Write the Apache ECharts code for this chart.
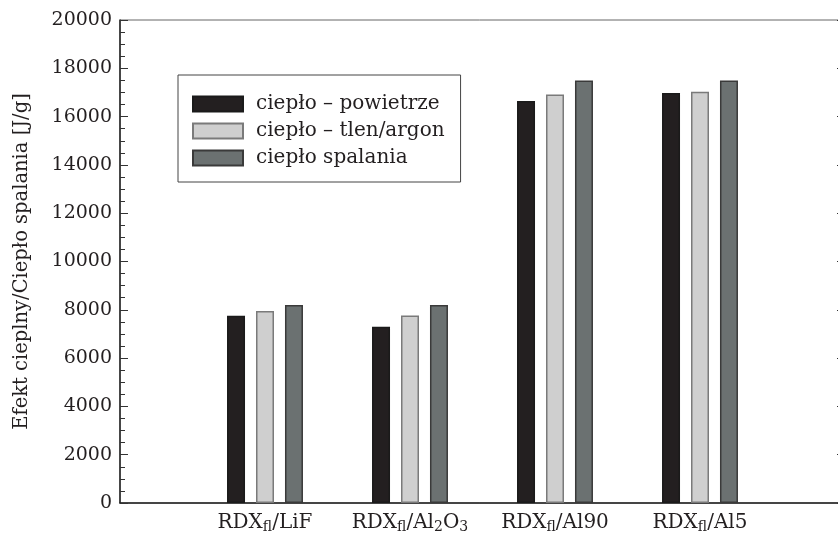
<!DOCTYPE html>
<html>
<head>
<meta charset="utf-8">
<title>Efekt cieplny</title>
<script src="https://cdn.jsdelivr.net/npm/echarts@6/dist/echarts.min.js"></script>
</head>
<body style="margin:0">
<div id="main" style="width:838px;height:534px;"></div>
<script type="text/javascript">
// kategorie (pierwsza i ostatnia pusta - jak na oryginale)
var categories = ['', 'RDX{s|fl}/LiF', 'RDX{s|fl}/Al{s|2}O{s|3}', 'RDX{s|fl}/Al90', 'RDX{s|fl}/Al5', ''];
var seriesNames = ['ciepło – powietrze', 'ciepło – tlen/argon', 'ciepło spalania'];
var heatAir = [null, 7750, 7300, 16650, 16980, null];
var heatOxygen = [null, 7950, 7760, 16920, 17030, null];
var heatCombustion = [null, 8200, 8200, 17500, 17500, null];
var yTicks = [0, 2000, 4000, 6000, 8000, 10000, 12000, 14000, 16000, 18000, 20000];

var serif = 'DejaVu Serif';
var fills = ['#231f20', '#cfcfcf', '#6b7171'];
var borders = ['#1a1a1a', '#7a7a7a', '#3a3a3a'];
var values = [heatAir, heatOxygen, heatCombustion];

var myChart = echarts.init(document.getElementById('main'));

var yAxisBase = {
    type: 'value',
    min: yTicks[0],
    max: yTicks[yTicks.length - 1],
    interval: 2000,
    splitLine: {show: false},
    axisLine: {show: true, lineStyle: {color: '#222', width: 1.5}},
    axisTick: {show: true, inside: true, length: 8, lineStyle: {color: '#333'}},
    minorTick: {show: true, splitNumber: 4, length: 5, lineStyle: {color: '#333'}}
};

var option = {
    animation: false,
    backgroundColor: '#fff',
    grid: {
        left: 120, top: 20, width: 725, height: 483,
        outerBoundsMode: 'none',
        containLabel: false,
        show: true, borderColor: '#666', borderWidth: 1, backgroundColor: 'transparent'
    },
    legend: {
        orient: 'vertical',
        left: 178, top: 75,
        padding: [19, 16, 14, 14],
        itemGap: 7,
        itemWidth: 50, itemHeight: 15,
        borderColor: '#444', borderWidth: 1,
        icon: 'rect',
        textStyle: {fontFamily: serif, fontSize: 20, color: '#231f20', padding: [0, 0, 0, 8]},
        data: seriesNames
    },
    xAxis: {
        type: 'category',
        data: categories,
        boundaryGap: false,
        axisLine: {lineStyle: {color: '#222', width: 1.5}},
        axisTick: {show: false},
        axisLabel: {
            margin: 8,
            interval: 0,
            fontFamily: serif, fontSize: 20, color: '#231f20',
            rich: {
                s: {fontFamily: serif, fontSize: 14, color: '#231f20', verticalAlign: 'bottom', padding: [9, 0, 0, 0]}
            }
        }
    },
    yAxis: [
        Object.assign({}, yAxisBase, {
            position: 'left',
            name: 'Efekt cieplny/Ciepło spalania [J/g]',
            nameLocation: 'middle',
            nameGap: 88,
            nameTextStyle: {fontFamily: serif, fontSize: 19.5, color: '#231f20'},
            axisLabel: {
                fontFamily: serif, fontSize: 19, color: '#231f20', margin: 8,
                formatter: function (v) { return String(v); }
            }
        }),
        Object.assign({}, yAxisBase, {
            position: 'right',
            axisLabel: {show: false}
        })
    ],
    series: seriesNames.map(function (name, i) {
        return {
            name: name,
            type: 'bar',
            barWidth: 18,
            barGap: '61%',
            data: values[i],
            itemStyle: {color: fills[i], borderColor: borders[i], borderWidth: 1.5}
        };
    })
};

myChart.setOption(option);
</script>
</body>
</html>
